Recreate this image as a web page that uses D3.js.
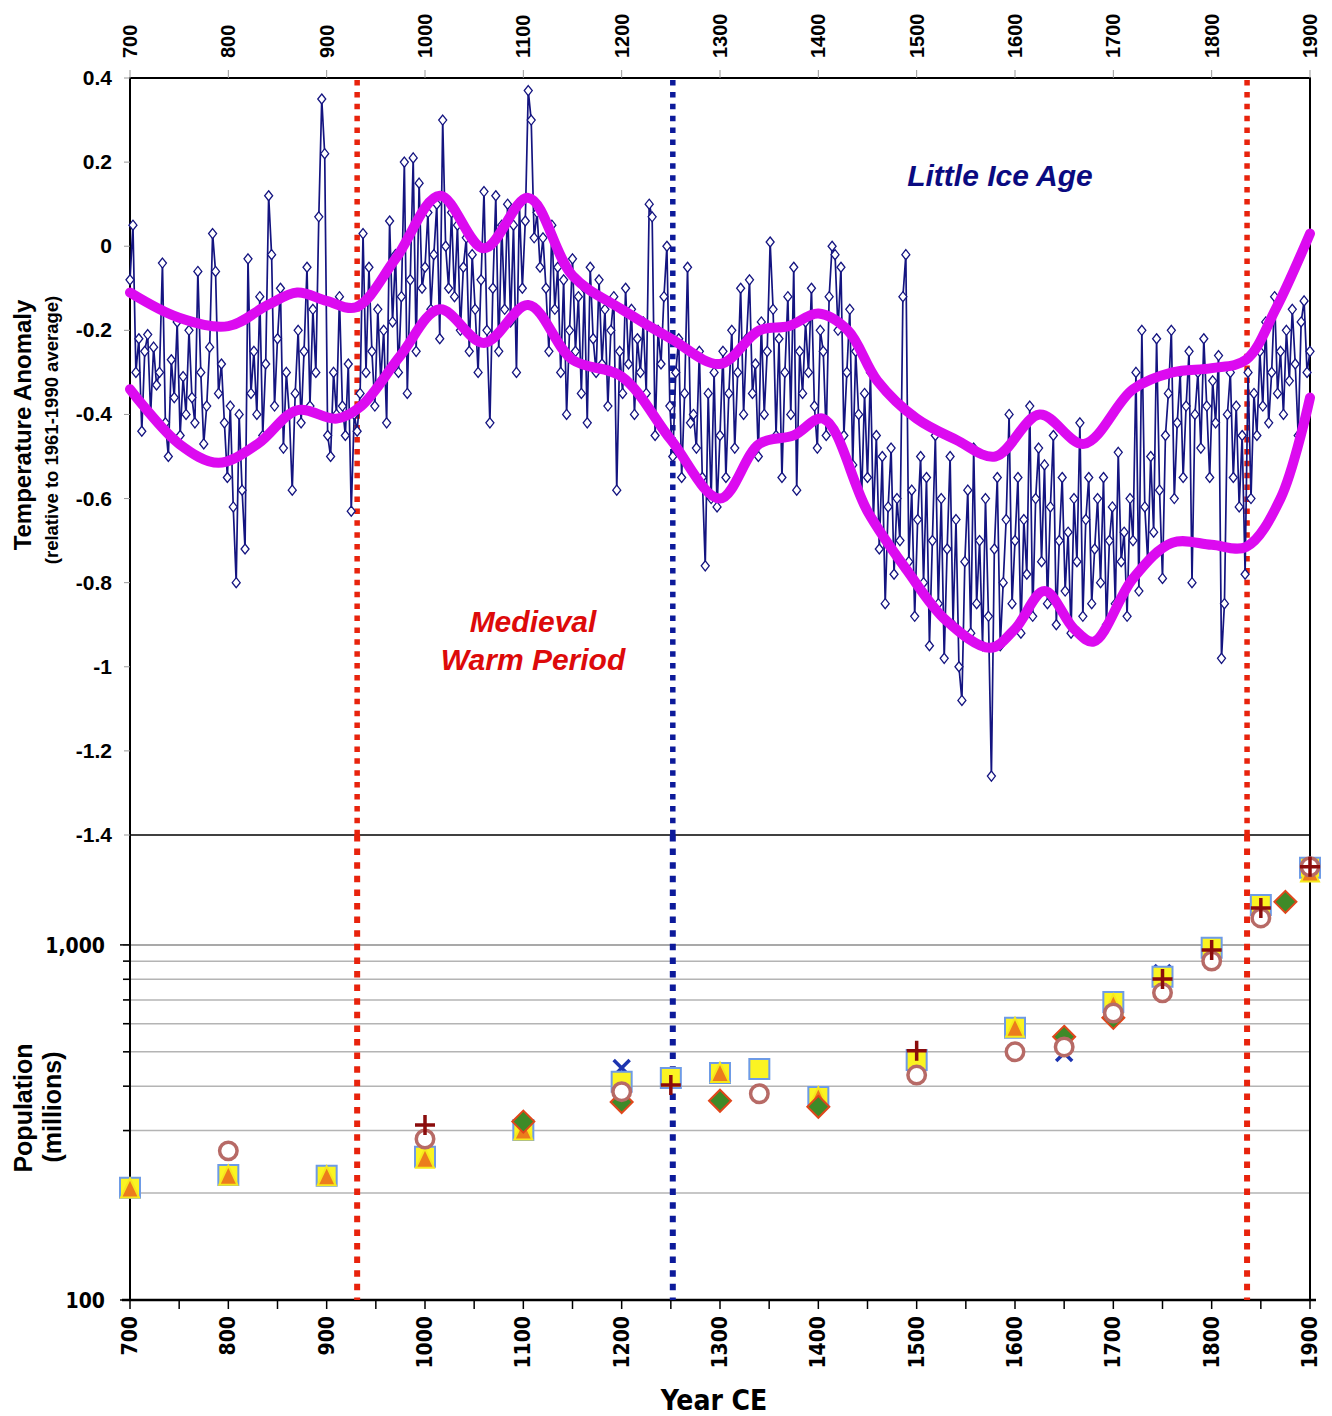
<!DOCTYPE html>
<meta charset="utf-8">
<title>Temperature anomaly and world population, 700-1900 CE</title>
<style>
body {
  margin: 0;
  background-color: white;
}
svg {
  display: block;
  font-family: 'Liberation Sans', Arial, sans-serif;
}
.cond {
  font-family: 'DejaVu Sans Condensed', 'Liberation Sans Narrow', 'Open Sans', sans-serif;
  font-stretch: condensed;
}
</style>
<svg width="1332" height="1416"></svg>
<script src="https://d3js.org/d3.v7.min.js"></script>
<script>
// temperature anomaly, one reading every 3 years from 700 to 1900
var firstYear = 700, yearStep = 3;
var anomaly = [
  -0.08, 0.05, -0.30, -0.22, -0.44, -0.25, -0.21, -0.40, -0.24, -0.33,
  -0.30, -0.04, -0.42, -0.50, -0.27, -0.36, -0.18, -0.45, -0.31, -0.40,
  -0.20, -0.36, -0.42, -0.06, -0.30, -0.47, -0.38, -0.24, 0.03, -0.06,
  -0.35, -0.28, -0.42, -0.55, -0.38, -0.62, -0.80, -0.40, -0.58, -0.72,
  -0.03, -0.35, -0.25, -0.40, -0.12, -0.45, -0.28, 0.12, -0.02, -0.38,
  -0.22, -0.10, -0.48, -0.30, -0.40, -0.58, -0.35, -0.20, -0.42, -0.25,
  -0.05, -0.38, -0.15, -0.30, 0.07, 0.35, 0.22, -0.45, -0.50, -0.30,
  -0.40, -0.12, -0.38, -0.45, -0.28, -0.63, -0.40, -0.44, -0.35, 0.03,
  -0.30, -0.05, -0.25, -0.38, -0.15, -0.32, -0.20, -0.42, 0.06, -0.18,
  -0.02, -0.30, -0.12, 0.20, -0.35, -0.08, 0.21, -0.25, 0.15, -0.10,
  -0.05, 0.08, -0.15, -0.02, 0.10, -0.22, 0.30, 0.00, -0.10, 0.08,
  -0.12, 0.05, -0.20, -0.05, 0.02, -0.25, -0.02, -0.15, -0.30, -0.08,
  0.13, -0.20, -0.42, -0.10, 0.12, -0.25, 0.05, -0.15, 0.10, -0.18,
  0.05, -0.30, 0.10, -0.10, 0.06, 0.37, 0.30, 0.02, 0.08, -0.05,
  0.02, -0.10, -0.25, 0.05, -0.15, -0.05, -0.30, -0.08, -0.40, -0.20,
  -0.03, -0.25, -0.12, -0.35, -0.10, -0.42, -0.05, -0.22, -0.30, -0.08,
  -0.28, -0.15, -0.38, -0.20, -0.12, -0.58, -0.25, -0.35, -0.10, -0.28,
  -0.15, -0.40, -0.22, -0.30, -0.18, -0.35, 0.10, 0.07, -0.45, -0.20,
  -0.28, -0.12, 0.00, -0.38, -0.50, -0.30, -0.22, -0.55, -0.35, -0.05,
  -0.42, -0.40, -0.48, -0.25, -0.55, -0.76, -0.35, -0.60, -0.30, -0.62,
  -0.45, -0.25, -0.55, -0.35, -0.20, -0.48, -0.30, -0.10, -0.40, -0.22,
  -0.08, -0.35, -0.28, -0.50, -0.18, -0.40, -0.25, 0.01, -0.15, -0.45,
  -0.22, -0.55, -0.30, -0.12, -0.40, -0.05, -0.58, -0.25, -0.35, -0.18,
  -0.30, -0.10, -0.38, -0.48, -0.20, -0.25, -0.45, -0.12, 0.00, -0.02,
  -0.20, -0.05, -0.45, -0.30, -0.15, -0.52, -0.25, -0.40, -0.60, -0.35,
  -0.55, -0.30, -0.65, -0.45, -0.72, -0.50, -0.85, -0.62, -0.48, -0.78,
  -0.60, -0.70, -0.12, -0.02, -0.75, -0.58, -0.88, -0.65, -0.50, -0.80,
  -0.55, -0.95, -0.70, -0.45, -0.85, -0.60, -0.98, -0.72, -0.50, -0.90,
  -0.65, -1.00, -1.08, -0.75, -0.58, -0.92, -0.48, -0.85, -0.70, -0.95,
  -0.60, -0.88, -1.26, -0.72, -0.55, -0.95, -0.80, -0.65, -0.40, -0.85,
  -0.70, -0.55, -0.92, -0.65, -0.78, -0.38, -0.88, -0.60, -0.48, -0.75,
  -0.52, -0.85, -0.62, -0.45, -0.90, -0.70, -0.55, -0.82, -0.68, -0.92,
  -0.60, -0.75, -0.42, -0.88, -0.65, -0.55, -0.85, -0.72, -0.60, -0.80,
  -0.55, -0.90, -0.70, -0.62, -0.85, -0.49, -0.75, -0.68, -0.88, -0.60,
  -0.70, -0.30, -0.82, -0.20, -0.62, -0.75, -0.50, -0.68, -0.22, -0.58,
  -0.79, -0.45, -0.35, -0.20, -0.60, -0.42, -0.30, -0.55, -0.38, -0.25,
  -0.80, -0.40, -0.30, -0.48, -0.22, -0.38, -0.55, -0.32, -0.42, -0.26,
  -0.98, -0.85, -0.40, -0.30, -0.55, -0.38, -0.62, -0.45, -0.78, -0.30,
  -0.60, -0.35, -0.45, -0.25, -0.38, -0.18, -0.42, -0.30, -0.12, -0.35,
  -0.25, -0.40, -0.20, -0.32, -0.15, -0.28, -0.45, -0.18, -0.13, -0.30,
  -0.25
];

// smoothed envelope (magenta)
var upperYears = [700, 750, 800, 840, 870, 900, 930, 970, 1015, 1060, 1105, 1150, 1200, 1250, 1300, 1340, 1370, 1400, 1430, 1460, 1500, 1540, 1580, 1625, 1670, 1720, 1760, 1800, 1835, 1865, 1900];
var upperValues = [-0.11, -0.17, -0.19, -0.14, -0.11, -0.13, -0.145, -0.03, 0.12, -0.005, 0.115, -0.07, -0.15, -0.22, -0.28, -0.2, -0.19, -0.16, -0.2, -0.32, -0.41, -0.46, -0.5, -0.4, -0.47, -0.34, -0.3, -0.29, -0.27, -0.15, 0.03];
var lowerYears = [700, 750, 790, 830, 870, 910, 935, 975, 1015, 1060, 1105, 1150, 1200, 1250, 1300, 1340, 1375, 1405, 1450, 1490, 1530, 1575, 1600, 1630, 1660, 1680, 1720, 1760, 1800, 1835, 1870, 1900];
var lowerValues = [-0.34, -0.47, -0.515, -0.47, -0.39, -0.41, -0.38, -0.26, -0.15, -0.23, -0.14, -0.27, -0.31, -0.46, -0.6, -0.47, -0.45, -0.41, -0.63, -0.77, -0.89, -0.955, -0.91, -0.82, -0.91, -0.94, -0.79, -0.705, -0.71, -0.715, -0.6, -0.36];

// world population estimates (millions), one array per source
var popSquares = [[700, 207], [800, 225], [900, 224], [1000, 253], [1100, 301], [1200, 412], [1250, 422], [1300, 436], [1340, 447], [1400, 373], [1500, 474], [1600, 584], [1700, 691], [1750, 813], [1800, 981], [1850, 1296], [1900, 1650]];
var popTriangles = [[700, 206], [800, 224], [900, 223], [1000, 250], [1100, 300], [1300, 436], [1400, 372], [1600, 584], [1700, 680], [1900, 1600]];
var popDiamonds = [[1100, 318], [1200, 361], [1300, 364], [1400, 350], [1650, 551], [1700, 623], [1875, 1322]];
var popCrosses = [[1200, 450], [1650, 496], [1750, 834], [1850, 1300]];
var popCircles = [[800, 263], [1000, 284], [1200, 386], [1340, 381], [1500, 430], [1600, 500], [1650, 516], [1700, 643], [1750, 733], [1800, 901], [1850, 1191], [1900, 1660]];
var popPlus = [[1000, 311], [1250, 403], [1500, 503], [1750, 802], [1800, 968], [1850, 1271], [1900, 1660]];

var yearTicks = d3.range(700, 1901, 100);
var anomalyTicks = [0.4, 0.2, 0, -0.2, -0.4, -0.6, -0.8, -1, -1.2, -1.4];
var popGrid = [200, 300, 400, 500, 600, 700, 800, 900, 1000];
var periodLines = [[931, '#e8230c'], [1252, '#0c1a9a'], [1836, '#e8230c']];

// plot edges (pixels)
var plotLeft = 130, plotRight = 1310, plotTop = 78, plotMid = 835, plotBottom = 1300;

var svg = d3.select('svg');

var x = d3.scaleLinear().domain([700, 1900]).range([plotLeft, plotRight]);
var y = d3.scaleLinear().domain([-1.4, 0.4]).range([plotMid, plotTop]);
var yPop = d3.scaleLog().domain([100, 2000]).range([plotBottom, plotMid + 3]);

// population grid lines
svg.append('g').selectAll('line')
  .data(popGrid)
  .enter().append('line')
    .attr('x1', plotLeft - 7).attr('x2', plotRight)
    .attr('y1', function(d) { return yPop(d); })
    .attr('y2', function(d) { return yPop(d); })
    .attr('stroke', function(d) { return d === 1000 ? '#8c8c8c' : '#b4b4b4'; })
    .attr('stroke-width', 1.5);

// frame
var frame = svg.append('g').attr('stroke', '#000').attr('fill', 'none');
frame.append('path')
  .attr('d', 'M' + plotLeft + ',' + plotBottom + 'V' + plotTop + 'H' + plotRight + 'V' + plotBottom)
  .attr('stroke-width', 2);
frame.append('line')
  .attr('x1', plotLeft).attr('x2', plotRight)
  .attr('y1', plotMid).attr('y2', plotMid)
  .attr('stroke-width', 1.5);
frame.append('line')
  .attr('x1', plotLeft - 8).attr('x2', plotRight + 6)
  .attr('y1', plotBottom).attr('y2', plotBottom)
  .attr('stroke-width', 2.5);

// top axis (years)
svg.append('g').selectAll('line')
  .data(yearTicks)
  .enter().append('line')
    .attr('x1', x).attr('x2', x)
    .attr('y1', plotTop).attr('y2', plotTop - 8)
    .attr('stroke', '#999');

svg.append('g').selectAll('text')
  .data(yearTicks)
  .enter().append('text')
    .attr('transform', function(d) { return 'translate(' + (x(d) + 7) + ',58) rotate(-90)'; })
    .attr('font-size', 20)
    .attr('font-weight', 'bold')
    .text(function(d) { return d; });

// left axis, temperature
svg.append('g').selectAll('line')
  .data(anomalyTicks)
  .enter().append('line')
    .attr('x1', plotLeft - 6).attr('x2', plotLeft)
    .attr('y1', y).attr('y2', y)
    .attr('stroke', '#999');

svg.append('g').selectAll('text')
  .data(anomalyTicks)
  .enter().append('text')
    .attr('x', 112)
    .attr('y', function(d) { return y(d) + 7; })
    .attr('text-anchor', 'end')
    .attr('font-size', 21)
    .attr('font-weight', 'bold')
    .text(function(d) { return d === 0 ? '0' : String(d); });

// left axis, population
svg.append('g').selectAll('line')
  .data([100, 200, 300, 400, 500, 600, 700, 800, 900, 1000])
  .enter().append('line')
    .attr('x1', function(d) { return d === 1000 || d === 100 ? plotLeft - 10 : plotLeft - 7; })
    .attr('x2', plotLeft)
    .attr('y1', yPop).attr('y2', yPop)
    .attr('stroke', '#000').attr('stroke-width', 1.5);

svg.append('g').attr('class', 'cond').selectAll('text')
  .data([1000, 100])
  .enter().append('text')
    .attr('x', 105)
    .attr('y', function(d) { return yPop(d) + 8; })
    .attr('text-anchor', 'end')
    .attr('font-size', 21)
    .attr('font-weight', 'bold')
    .text(d3.format(','));

// bottom axis
svg.append('g').selectAll('line')
  .data(d3.range(700, 1901, 50))
  .enter().append('line')
    .attr('x1', x).attr('x2', x)
    .attr('y1', plotBottom).attr('y2', plotBottom + 9)
    .attr('stroke', '#000').attr('stroke-width', 1.5);

svg.append('g').attr('class', 'cond').selectAll('text')
  .data(yearTicks)
  .enter().append('text')
    .attr('transform', function(d) { return 'translate(' + (x(d) + 7) + ',1316) rotate(-90)'; })
    .attr('text-anchor', 'end')
    .attr('font-size', 21)
    .attr('font-weight', 'bold')
    .text(function(d) { return d; });

// axis titles
svg.append('text')
  .attr('transform', 'translate(31,425) rotate(-90)')
  .attr('text-anchor', 'middle')
  .attr('font-size', 24).attr('font-weight', 'bold')
  .text('Temperature Anomaly');
svg.append('text')
  .attr('transform', 'translate(58,430) rotate(-90)')
  .attr('text-anchor', 'middle')
  .attr('font-size', 18.5).attr('font-weight', 'bold')
  .text('(relative to 1961-1990 average)');
svg.append('text')
  .attr('transform', 'translate(32,1108) rotate(-90)')
  .attr('text-anchor', 'middle')
  .attr('font-size', 25).attr('font-weight', 'bold')
  .text('Population');
svg.append('text')
  .attr('transform', 'translate(61,1107) rotate(-90)')
  .attr('text-anchor', 'middle')
  .attr('font-size', 25).attr('font-weight', 'bold')
  .text('(millions)');
svg.append('text')
  .attr('class', 'cond')
  .attr('x', 714).attr('y', 1410)
  .attr('text-anchor', 'middle')
  .attr('font-size', 28).attr('font-weight', 'bold')
  .text('Year CE');

// period markers
periodLines.forEach(function(p) {
  svg.append('line')
    .attr('x1', x(p[0])).attr('x2', x(p[0]))
    .attr('y1', plotTop + 2).attr('y2', plotMid)
    .attr('stroke', p[1]).attr('stroke-width', 5.5)
    .attr('stroke-dasharray', '5.5,6.4');
  svg.append('line')
    .attr('x1', x(p[0])).attr('x2', x(p[0]))
    .attr('y1', plotMid).attr('y2', plotBottom)
    .attr('stroke', p[1]).attr('stroke-width', 6)
    .attr('stroke-dasharray', '6.5,7.1');
});

// temperature series
var temps = anomaly.map(function(v, i) { return [firstYear + i * yearStep, v]; });

svg.append('path')
  .datum(temps)
  .attr('fill', 'none')
  .attr('stroke', '#141480')
  .attr('stroke-width', 1.7)
  .attr('d', d3.line().x(function(d) { return x(d[0]); }).y(function(d) { return y(d[1]); }));

svg.append('g').selectAll('path')
  .data(temps)
  .enter().append('path')
    .attr('transform', function(d) { return 'translate(' + x(d[0]) + ',' + y(d[1]) + ')'; })
    .attr('d', 'M0,-5L4,0L0,5L-4,0Z')
    .attr('fill', 'white')
    .attr('stroke', '#141480')
    .attr('stroke-width', 1.3);

// envelopes
var smooth = d3.line()
  .x(function(d) { return x(d[0]); })
  .y(function(d) { return y(d[1]); })
  .curve(d3.curveCatmullRom.alpha(0.5));

[[upperYears, upperValues], [lowerYears, lowerValues]].forEach(function(s) {
  svg.append('path')
    .datum(s[0].map(function(yr, i) { return [yr, s[1][i]]; }))
    .attr('fill', 'none')
    .attr('stroke', '#dc0af0')
    .attr('stroke-width', 10)
    .attr('stroke-linecap', 'round')
    .attr('d', smooth);
});

// period labels
svg.append('text')
  .attr('x', 1000).attr('y', 186)
  .attr('text-anchor', 'middle')
  .attr('font-size', 30).attr('font-weight', 'bold').attr('font-style', 'italic')
  .attr('fill', '#0a0a80')
  .text('Little Ice Age');
svg.append('text')
  .attr('x', 533).attr('y', 632)
  .attr('text-anchor', 'middle')
  .attr('font-size', 30).attr('font-weight', 'bold').attr('font-style', 'italic')
  .attr('fill', '#dd0a0a')
  .text('Medieval');
svg.append('text')
  .attr('x', 533).attr('y', 670)
  .attr('text-anchor', 'middle')
  .attr('font-size', 30).attr('font-weight', 'bold').attr('font-style', 'italic')
  .attr('fill', '#dd0a0a')
  .text('Warm Period');

// population markers
function place(d) { return 'translate(' + x(d[0]) + ',' + yPop(d[1]) + ')'; }

function marks(data, shape, attrs) {
  var sel = svg.append('g').selectAll('path')
    .data(data)
    .enter().append('path')
      .attr('transform', place)
      .attr('d', shape);
  Object.keys(attrs).forEach(function(k) { sel.attr(k, attrs[k]); });
}

marks(popCrosses, 'M-8,-8L8,8M8,-8L-8,8', { fill: 'none', stroke: '#1d34b0', 'stroke-width': 3.5 });
marks(popSquares, 'M-10,-10H10V10H-10Z', { fill: '#fbf422', stroke: '#6e9be6', 'stroke-width': 2 });
marks(popTriangles, 'M0,-10L9,9H-9Z', { fill: '#ec7c1c', stroke: '#f6e81c', 'stroke-width': 2 });
marks(popDiamonds, 'M0,-11L11,0L0,11L-11,0Z', { fill: '#3e8a28', stroke: '#e0471c', 'stroke-width': 2 });
marks(popCircles, d3.symbol(d3.symbolCircle, 240)(), { fill: 'white', stroke: '#b76a66', 'stroke-width': 3.5 });
marks(popPlus, 'M-10,0H10M0,-10V10', { fill: 'none', stroke: '#8b0c0c', 'stroke-width': 3.5 });
</script>
